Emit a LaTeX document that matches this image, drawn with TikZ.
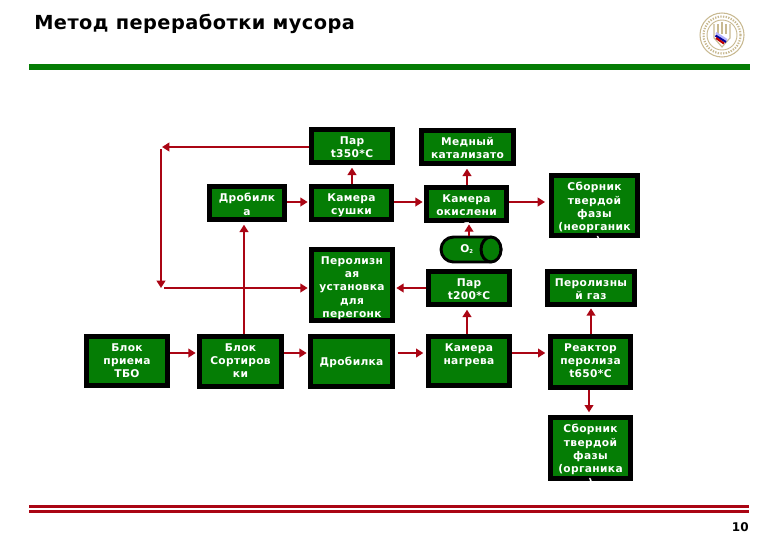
\documentclass[tikz,border=0pt]{standalone}
\usepackage{fontspec}
\setmainfont{DejaVu Sans}
\newfontfamily\boxfont[LetterSpace=3]{DejaVu Sans Bold}
\newfontfamily\titlefont[LetterSpace=2.4]{DejaVu Sans Bold}
\usetikzlibrary{arrows.meta,calc}
\definecolor{gr}{RGB}{5,125,5}
\definecolor{rd}{RGB}{170,5,20}
\definecolor{tan1}{RGB}{200,185,145}
\tikzset{
  boxshape/.style={draw=black,fill=gr,line width=3.75pt,inner sep=0pt},
  boxtext/.style={text=white,font=\boxfont\fontsize{8pt}{10pt}\selectfont,align=center,inner sep=0pt,anchor=north},
  flow/.style={draw=rd,line width=2.1pt,-{Triangle[length=5.5pt,width=6.5pt]}},
  thinflow/.style={flow,line width=1.5pt},
  rule/.style={fill=#1,draw=none},
}
\newcommand{\boxnode}[6]{%
  \pgfmathsetmacro{\cxx}{(#2+#4)/2}%
  \pgfmathsetmacro{\cyy}{(#3+#5)/2}%
  \pgfmathsetmacro{\wdd}{(#4-#2-5)*0.75}%
  \pgfmathsetmacro{\htt}{(#5-#3-5)*0.75}%
  \node[boxshape,minimum width=\wdd pt,minimum height=\htt pt] (#1) at (\cxx,\cyy) {};
  \begin{scope}
    \clip (#2,#3) rectangle (#4,#5);
    \node[boxtext] (#1t) at (\cxx,#3+9) {#6};
  \end{scope}
}
\begin{document}
\begin{tikzpicture}[x=0.75pt,y=-0.75pt]
\useasboundingbox (0,0) rectangle (780,540);
% header
\node[anchor=west,inner sep=0pt,font=\titlefont\fontsize{14.5pt}{17pt}\selectfont] (title) at (34,24) {Метод переработки мусора};
\fill[rule=gr] (29,64) rectangle (750,70);
% emblem
\coordinate (em) at (722,35);
\draw[tan1,line width=0.8pt] (em) circle (22);
\draw[tan1,line width=1.6pt,dash pattern=on 1pt off 1pt] (em) circle (18.5);
\draw[tan1,line width=0.7pt] (em) circle (15);
\draw[tan1,line width=0.8pt] (714,24) -- (714,38) -- (722,47) -- (730,38) -- (730,24);
\draw[tan1,line width=0.8pt] (718,24) -- (718,34) (722,22) -- (722,34) (726,24) -- (726,34);
\draw[white!70!blue,line width=1.6pt] (716,33) -- (727,40);
\draw[blue!60!black,line width=1.6pt] (715.5,35.5) -- (726,42);
\draw[red!75!black,line width=1.6pt] (716,38) -- (724,43.5);
% footer
\fill[rule=rd] (29,505) rectangle (749,508);
\fill[rule=rd] (29,510) rectangle (749,513);
\node[anchor=east,inner sep=0pt,font=\titlefont\fontsize{9pt}{11pt}\selectfont] (pageno) at (749,527) {10};
% boxes
\boxnode{par350}{309}{127}{395}{165}{Пар\\t350*C}
\boxnode{cat}{419}{128}{516}{166}{Медный\\катализато\\р}
\boxnode{dry}{309}{184}{394}{222}{Камера\\сушки}
\boxnode{oxi}{424}{185}{509}{223}{Камера\\окислени\\я}
\boxnode{crush}{207}{184}{287}{222}{Дробилк\\а}
\boxnode{solid}{549}{173}{640}{238}{Сборник\\твердой\\фазы\\(неорганик\\а)}
\boxnode{pyr}{309}{247}{395}{323}{Перолизн\\ая\\установка\\для\\перегонк\\и}
\boxnode{par200}{426}{269}{512}{307}{Пар\\t200*C}
\boxnode{gas}{545}{269}{637}{307}{Перолизны\\й газ}
\boxnode{recv}{84}{334}{170}{388}{Блок\\приема\\ТБО}
\boxnode{sort}{197}{334}{284}{389}{Блок\\Сортиров\\ки}
\boxnode{crushb}{308}{334}{395}{389}{\strut\\Дробилка}
\boxnode{heat}{426}{334}{512}{388}{Камера\\нагрева}
\boxnode{react}{548}{334}{633}{390}{Реактор\\перолиза\\t650*C}
\boxnode{solidb}{548}{415}{633}{481}{Сборник\\твердой\\фазы\\(органика\\)}
% oxygen cylinder
\node[draw=black,fill=gr,line width=2.2pt,rounded corners=12.5*0.75pt,minimum width=60*0.75pt,minimum height=25*0.75pt,inner sep=0pt] (o2) at (471,249.5) {};
\draw[black,fill=gr,line width=2.2pt] (491,249.5) ellipse (10 and 12.5);
\node[inner sep=0pt,text=white,font=\boxfont\fontsize{8pt}{10pt}\selectfont] (o2t) at (467,249) {O\textsubscript{\fontsize{4pt}{5pt}\selectfont 2}};
% row reference points
\coordinate (rowa) at (0,147);
\coordinate (rowb) at (0,202);
\coordinate (rowc) at (0,288);
\coordinate (rowd) at (0,353);
\coordinate (junctop) at (161,149);
\coordinate (junctopin) at (162,147);
\coordinate (juncbot) at (161,288);
\coordinate (juncout) at (164,288);
% connectors
\draw[thinflow] (recv.east |- rowd) -- ([xshift=-1pt]sort.west |- rowd);
\draw[flow] (sort.east |- rowd) -- ([xshift=-1pt]crushb.west |- rowd);
\draw[flow] ([xshift=2pt]crushb.east |- rowd) -- ([xshift=-2pt]heat.west |- rowd);
\draw[flow] (heat.east |- rowd) -- ([xshift=-2pt]react.west |- rowd);
\draw[flow] (react.south -| 589,0) -- ([yshift=2pt]solidb.north -| 589,0);
\draw[flow] (react.north -| 591,0) -- ([yshift=-1pt]gas.south -| 591,0);
\draw[flow] (heat.north -| 467,0) -- ([yshift=-2pt]par200.south -| 467,0);
\draw[flow] (par200.west |- rowc) -- ([xshift=1pt]pyr.east |- rowc);
\draw[flow] (o2.north -| 469,0) -- ([yshift=-1pt]oxi.south -| 469,0);
\draw[flow] (oxi.north -| 467,0) -- ([yshift=-2pt]cat.south -| 467,0);
\draw[flow] (oxi.east |- rowb) -- ([xshift=-3pt]solid.west |- rowb);
\draw[flow] (dry.east |- rowb) -- ([xshift=-1pt]oxi.west |- rowb);
\draw[flow] (dry.north -| 352,0) -- ([yshift=-2pt]par350.south -| 352,0);
\draw[flow] (crush.east |- rowb) -- ([xshift=-1pt]dry.west |- rowb);
\draw[thinflow] (sort.north -| 244,0) -- ([yshift=-2pt]crush.south -| 244,0);
\draw[thinflow] (par350.west |- rowa) -- (junctopin);
\draw[flow] (junctop) -- (juncbot);
\draw[flow] (juncout) -- ([xshift=-1pt]pyr.west |- rowc);
\end{tikzpicture}
\end{document}
